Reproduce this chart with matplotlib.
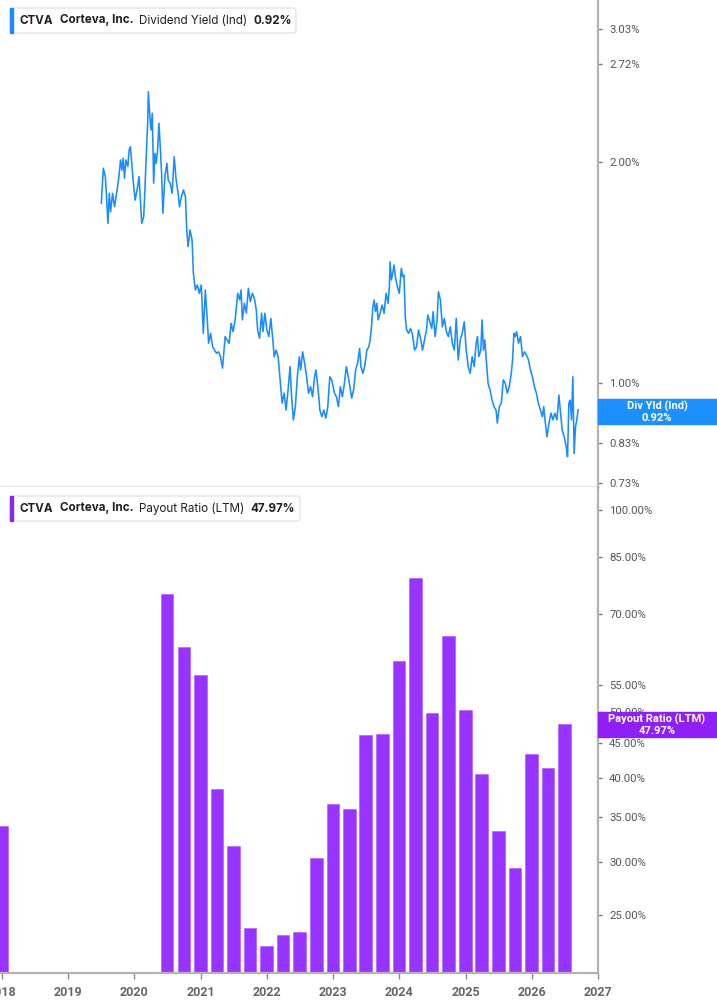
import pandas as pd
import matplotlib.pyplot as plt
from matplotlib.patches import FancyBboxPatch, Rectangle
from matplotlib.ticker import FixedLocator, NullLocator

# ---- data ----
# dividend yield (Ind), % -- decimal year / value
dy_year = [
    2019.50, 2019.53, 2019.56, 2019.57, 2019.60, 2019.62, 2019.64, 2019.67, 2019.70, 2019.73,
    2019.76, 2019.79, 2019.81, 2019.83, 2019.85, 2019.87, 2019.90, 2019.92, 2019.94, 2019.96,
    2019.98, 2020.01, 2020.04, 2020.07, 2020.09, 2020.11, 2020.14, 2020.16, 2020.18, 2020.20,
    2020.21, 2020.23, 2020.25, 2020.27, 2020.29, 2020.31, 2020.33, 2020.35, 2020.37, 2020.39,
    2020.41, 2020.43, 2020.46, 2020.49, 2020.51, 2020.54, 2020.57, 2020.60, 2020.63, 2020.66,
    2020.68, 2020.71, 2020.74, 2020.77, 2020.79, 2020.81, 2020.84, 2020.87, 2020.89, 2020.92,
    2020.95, 2020.98, 2021.01, 2021.04, 2021.07, 2021.10, 2021.12, 2021.15, 2021.18, 2021.21,
    2021.24, 2021.27, 2021.30, 2021.33, 2021.37, 2021.40, 2021.43, 2021.46, 2021.49, 2021.52,
    2021.56, 2021.59, 2021.61, 2021.63, 2021.66, 2021.69, 2021.72, 2021.75, 2021.78, 2021.81,
    2021.84, 2021.86, 2021.89, 2021.92, 2021.94, 2021.97, 2022.00, 2022.03, 2022.06, 2022.09,
    2022.11, 2022.14, 2022.17, 2022.20, 2022.23, 2022.26, 2022.29, 2022.32, 2022.35, 2022.37,
    2022.40, 2022.43, 2022.46, 2022.49, 2022.51, 2022.54, 2022.57, 2022.60, 2022.63, 2022.66,
    2022.69, 2022.72, 2022.74, 2022.77, 2022.80, 2022.83, 2022.86, 2022.89, 2022.92, 2022.95,
    2022.98, 2023.02, 2023.05, 2023.08, 2023.11, 2023.14, 2023.17, 2023.20, 2023.23, 2023.26,
    2023.28, 2023.31, 2023.34, 2023.37, 2023.40, 2023.42, 2023.45, 2023.48, 2023.51, 2023.54,
    2023.56, 2023.58, 2023.60, 2023.62, 2023.64, 2023.66, 2023.68, 2023.71, 2023.74, 2023.77,
    2023.80, 2023.83, 2023.85, 2023.86, 2023.88, 2023.90, 2023.92, 2023.94, 2023.97, 2024.00,
    2024.03, 2024.05, 2024.07, 2024.09, 2024.11, 2024.14, 2024.17, 2024.20, 2024.23, 2024.26,
    2024.29, 2024.32, 2024.35, 2024.38, 2024.41, 2024.43, 2024.46, 2024.49, 2024.51, 2024.54,
    2024.57, 2024.59, 2024.62, 2024.65, 2024.68, 2024.71, 2024.74, 2024.77, 2024.80, 2024.83,
    2024.86, 2024.89, 2024.92, 2024.95, 2024.98, 2025.01, 2025.04, 2025.07, 2025.10, 2025.13,
    2025.16, 2025.18, 2025.20, 2025.23, 2025.25, 2025.27, 2025.29, 2025.31, 2025.34, 2025.37,
    2025.40, 2025.43, 2025.46, 2025.48, 2025.51, 2025.54, 2025.57, 2025.60, 2025.63, 2025.66,
    2025.69, 2025.71, 2025.73, 2025.75, 2025.77, 2025.80, 2025.83, 2025.86, 2025.89, 2025.92,
    2025.95, 2025.98, 2026.01, 2026.04, 2026.07, 2026.10, 2026.13, 2026.16, 2026.18, 2026.20,
    2026.23, 2026.26, 2026.29, 2026.32, 2026.35, 2026.38, 2026.41, 2026.43, 2026.46, 2026.49,
    2026.52, 2026.54, 2026.56, 2026.58, 2026.60, 2026.62, 2026.64, 2026.66, 2026.68, 2026.70,
]
dy_value = [
    1.757, 1.961, 1.910, 1.851, 1.650, 1.813, 1.711, 1.813, 1.738, 1.813,
    1.890, 2.013, 1.950, 2.023, 1.900, 2.013, 1.971, 2.077, 2.098, 1.992,
    1.890, 1.775, 1.832, 1.910, 1.775, 1.650, 1.685, 1.851, 2.055, 2.258,
    2.493, 2.330, 2.211, 2.330, 1.871, 2.055, 1.992, 2.077, 2.258, 2.098,
    1.930, 1.703, 1.910, 1.992, 1.890, 1.871, 1.813, 2.033, 1.890, 1.813,
    1.738, 1.794, 1.832, 1.794, 1.616, 1.534, 1.616, 1.566, 1.411, 1.339,
    1.360, 1.325, 1.360, 1.169, 1.339, 1.219, 1.133, 1.169, 1.121, 1.109,
    1.098, 1.103, 1.086, 1.048, 1.157, 1.145, 1.133, 1.206, 1.175, 1.219,
    1.325, 1.298, 1.339, 1.219, 1.284, 1.245, 1.346, 1.291, 1.325, 1.305,
    1.258, 1.181, 1.151, 1.245, 1.175, 1.245, 1.181, 1.157, 1.225, 1.145,
    1.086, 1.109, 1.086, 1.010, 0.939, 0.969, 0.919, 0.979, 1.053, 0.969,
    0.891, 0.929, 1.020, 1.086, 1.042, 1.103, 1.064, 1.020, 0.969, 0.989,
    0.958, 1.020, 1.042, 0.989, 0.919, 0.900, 0.919, 0.896, 0.929, 1.020,
    1.010, 0.969, 0.958, 0.929, 0.989, 0.958, 0.999, 1.053, 1.020, 0.979,
    0.954, 0.979, 1.042, 1.064, 1.115, 1.053, 1.031, 1.058, 1.109, 1.121,
    1.145, 1.193, 1.271, 1.298, 1.251, 1.284, 1.219, 1.245, 1.277, 1.245,
    1.325, 1.284, 1.353, 1.463, 1.382, 1.411, 1.448, 1.396, 1.353, 1.325,
    1.433, 1.396, 1.403, 1.231, 1.181, 1.169, 1.187, 1.163, 1.109, 1.121,
    1.181, 1.151, 1.109, 1.145, 1.181, 1.238, 1.212, 1.187, 1.251, 1.157,
    1.219, 1.332, 1.298, 1.193, 1.225, 1.175, 1.157, 1.193, 1.133, 1.109,
    1.225, 1.075, 1.145, 1.169, 1.212, 1.109, 1.053, 1.031, 1.086, 1.053,
    1.133, 1.157, 1.086, 1.109, 1.219, 1.109, 1.145, 1.086, 0.999, 0.979,
    0.948, 0.929, 0.919, 0.882, 0.929, 0.939, 1.010, 0.999, 0.969, 0.989,
    1.031, 1.075, 1.169, 1.157, 1.175, 1.133, 1.157, 1.086, 1.103, 1.092,
    1.075, 1.042, 1.020, 0.989, 0.969, 0.939, 0.919, 0.900, 0.929, 0.891,
    0.845, 0.882, 0.910, 0.891, 0.910, 0.891, 0.963, 0.919, 0.863, 0.845,
    0.819, 0.794, 0.939, 0.948, 0.891, 1.020, 0.802, 0.872, 0.891, 0.920,
]

# payout ratio (LTM), % -- quarterly
pr_dates = [
    "2017-12-31",
    "2020-06-30", "2020-09-30", "2020-12-31",
    "2021-03-31", "2021-06-30", "2021-09-30", "2021-12-31",
    "2022-03-31", "2022-06-30", "2022-09-30", "2022-12-31",
    "2023-03-31", "2023-06-30", "2023-09-30", "2023-12-31",
    "2024-03-31", "2024-06-30", "2024-09-30", "2024-12-31",
    "2025-03-31", "2025-06-30", "2025-09-30", "2025-12-31",
    "2026-03-31", "2026-06-30",
]
pr_values = [
    33.9,
    75.0, 62.6, 56.8,
    38.5, 31.6, 23.9, 22.5,
    23.3, 23.6, 30.4, 36.5,
    35.9, 46.3, 46.4, 59.6,
    79.2, 49.9, 65.0, 50.4,
    40.5, 33.3, 29.3, 43.4,
    41.3, 47.97,
]

dy_ticks = [0.73, 0.83, 0.93, 1.00, 2.00, 2.72, 3.03]
pr_ticks = [25, 30, 35, 40, 45, 50, 55, 70, 85, 100]
years = list(range(2018, 2028))

BLUE = "#1a8cff"
PURPLE = "#9933ff"
BADGE_PURPLE = "#8f1ff5"
AXIS = "#b3b3b3"
TICKTXT = "#555555"

W, H = 717, 1005


def dec_year(s):
    d = pd.Timestamp(s)
    days = 366 if d.is_leap_year else 365
    return d.year + (d.dayofyear - 1) / days


pr_x = [dec_year(s) for s in pr_dates]

fig = plt.figure(figsize=(W / 100, H / 100), dpi=100)
ax1 = fig.add_axes([0, 1 - 487 / H, 598 / W, 487 / H])
ax2 = fig.add_axes([0, 1 - 973 / H, 598 / W, (973 - 487) / H])

for ax in (ax1, ax2):
    ax.set_xlim(2017.97, 2027)
    ax.set_yscale("log")
    ax.spines["left"].set_visible(False)
    ax.spines["top"].set_visible(False)
    ax.spines["right"].set_color(AXIS)
    ax.spines["right"].set_linewidth(1.6)
    ax.yaxis.tick_right()
    ax.yaxis.set_minor_locator(NullLocator())
    ax.tick_params(axis="y", direction="out", length=3, width=1, color="#777777",
                   pad=5, labelsize=8.2, labelcolor=TICKTXT)
    ax.set_facecolor("white")

# top panel: dividend yield line
ax1.plot(dy_year, dy_value, color=BLUE, lw=1.15)
ax1.set_ylim(0.722, 3.323)
ax1.yaxis.set_major_locator(FixedLocator(dy_ticks))
ax1.set_yticklabels([f"{v:.2f}%" for v in dy_ticks], fontfamily="Roboto")
ax1.set_xticks([])
ax1.spines["bottom"].set_color("#e0e0e0")
ax1.spines["bottom"].set_linewidth(2)

# bottom panel: payout ratio bars (log axis, bars start from the axis floor)
ax2.bar(pr_x, pr_values, width=0.19, color=PURPLE, edgecolor="#a855ff",
        linewidth=0.4)
ax2.set_ylim(20.48, 108.2)
ax2.yaxis.set_major_locator(FixedLocator(pr_ticks))
ax2.set_yticklabels([f"{v:.2f}%" for v in pr_ticks], fontfamily="Roboto")
ax2.set_xticks(years)
ax2.set_xticklabels([str(y) for y in years], fontfamily="Roboto",
                    fontweight="bold", fontsize=9, color="#666666")
ax2.tick_params(axis="x", direction="out", length=4, width=1, color="#888888", pad=5)
ax2.spines["bottom"].set_color(AXIS)
ax2.spines["bottom"].set_linewidth(1.6)


def legend_box(y0, y1, x1, color, parts):
    box = FancyBboxPatch((10 / W, 1 - y1 / H), (x1 - 10) / W, (y1 - y0) / H,
                         boxstyle="round,pad=0,rounding_size=0.004",
                         transform=fig.transFigure, facecolor="white",
                         edgecolor="#e4e4e4", lw=1, zorder=5)
    fig.patches.append(box)
    strip = Rectangle((10 / W, 1 - y1 / H), 3 / W, (y1 - y0) / H,
                      transform=fig.transFigure, color=color, zorder=6)
    fig.patches.append(strip)
    yc = 1 - (y0 + y1) / 2 / H
    for x, s, wt in parts:
        fig.text(x / W, yc, s, ha="left", va="center", fontsize=8.4,
                 fontfamily="Inter", fontweight=wt, color="#1f1f1f", zorder=7)


legend_box(8, 33, 296, BLUE, [
    (20, "CTVA", "bold"), (60, "Corteva, Inc.", "bold"),
    (139, "Dividend Yield (Ind)", "normal"), (254, "0.92%", "bold")])
legend_box(496, 521, 300, "#8a2be2", [
    (20, "CTVA", "bold"), (60, "Corteva, Inc.", "bold"),
    (139, "Payout Ratio (LTM)", "normal"), (250, "47.97%", "bold")])


def badge(y0, y1, color, line1, line2):
    fig.patches.append(Rectangle((598 / W, 1 - y1 / H), 119 / W, (y1 - y0) / H,
                                 transform=fig.transFigure, color=color, zorder=5))
    fig.text(657 / W, 1 - (y0 + 7) / H, line1, ha="center", va="center",
             fontsize=8, fontfamily="Roboto", fontweight="bold", color="white", zorder=6)
    fig.text(657 / W, 1 - (y0 + 18.5) / H, line2, ha="center", va="center",
             fontsize=8, fontfamily="Roboto", fontweight="bold", color="white", zorder=6)


badge(399, 424, "#1e8fff", "Div Yld (Ind)", "0.92%")
badge(712, 737, BADGE_PURPLE, "Payout Ratio (LTM)", "47.97%")

fig.savefig("out.png", dpi=100, facecolor="white")
